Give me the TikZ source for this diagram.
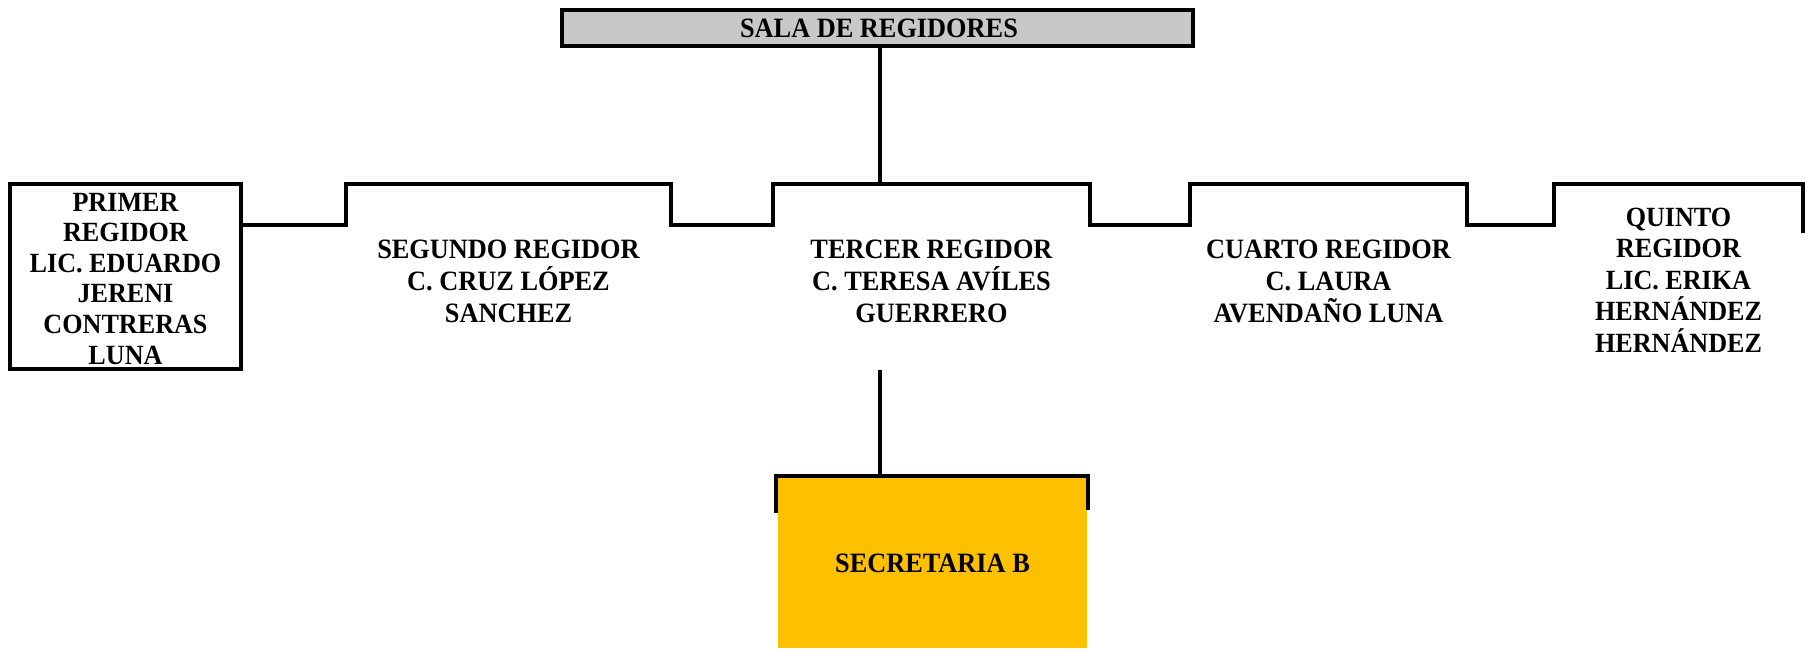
\documentclass[tikz,border=0pt]{standalone}
\usepackage{fontspec}
\setmainfont{Liberation Serif}
\newfontfamily\tallfont{Liberation Serif}[FakeStretch=0.94]
\usetikzlibrary{calc}
\definecolor{salagray}{HTML}{C8C8C8}
\definecolor{secyellow}{HTML}{FFC000}
\begin{document}
\begin{tikzpicture}[x=1pt,y=-1pt,line width=4pt,
  lbl/.style={align=center,inner sep=0pt,anchor=base,font=\tallfont\fontsize{28}{32}\selectfont\bfseries},
  lblp/.style={lbl,font=\tallfont\fontsize{27.8}{30.6}\selectfont\bfseries},
  lblq/.style={lbl,font=\tallfont\fontsize{27.8}{31.4}\selectfont\bfseries},
  slot/.style={inner sep=0pt,minimum height=37pt,anchor=north},
  wire/.style={line width=4pt,line cap=rect}
]
\useasboundingbox (0,0) rectangle (1809,648);
% top box
\node[draw,fill=salagray,minimum width=631pt,minimum height=36pt,inner sep=0pt] (sala) at (877.5,28) {};
\node[lbl] (salatxt) at (879,37) {SALA DE REGIDORES};
% primer box
\node[draw,minimum width=231pt,minimum height=185pt,inner sep=0pt] (primer) at (125.5,276.5) {};
\node[lblp] (primertxt) at (125.5,364) {PRIMER\\REGIDOR\\LIC. EDUARDO\\JERENI\\CONTRERAS\\LUNA};
% bracket slots
\node[slot,minimum width=321pt] (seg) at (508.5,184) {};
\node[slot,minimum width=313pt] (ter) at (931.5,184) {};
\node[slot,minimum width=273pt] (cua) at (1328.5,184) {};
\node[slot,minimum width=245pt] (qui) at (1678.5,184) {};
\draw[wire] (seg.south west) -- (seg.north west) -- (seg.north east) -- (seg.south east);
\draw[wire] (ter.south west) -- (ter.north west) -- (ter.north east) -- (ter.south east);
\draw[wire] (cua.south west) -- (cua.north west) -- (cua.north east) -- (cua.south east);
\draw[wire] (qui.south west) -- (qui.north west) -- (qui.north east) -- ([yshift=-6pt]qui.south east);
% texts
\node[lbl] (segtxt) at (508.5,322) {SEGUNDO REGIDOR\\C. CRUZ LÓPEZ\\SANCHEZ};
\node[lbl] (tertxt) at (931.5,322) {TERCER REGIDOR\\C. TERESA AVÍLES\\GUERRERO};
\node[lbl] (cuatxt) at (1328.5,322) {CUARTO REGIDOR\\C. LAURA\\AVENDAÑO LUNA};
\node[lblq] (quitxt) at (1678.5,352) {QUINTO\\REGIDOR\\LIC. ERIKA\\HERNÁNDEZ\\HERNÁNDEZ};
% connectors
\draw[wire] (primer.east |- seg.south west) -- (seg.south west);
\draw[wire] (seg.south east) -- (ter.south west);
\draw[wire] (ter.south east) -- (cua.south west);
\draw[wire] (cua.south east) -- (qui.south west);
\coordinate (tup) at (880,184);
\draw[wire,line cap=butt] (sala.south -| tup) -- (tup);
% secretaria
\fill[secyellow] (778,478) rectangle (1087,648);
\node[inner sep=0pt,minimum width=309pt,minimum height=170pt] (sec) at (932.5,563) {};
\node[lbl] (sectxt) at (932.5,572) {SECRETARIA B};
\coordinate (tdown) at (880,370);
\draw[wire,line cap=butt] (tdown) -- (tdown |- sec.north);
\draw[wire,line cap=butt] (776,513) -- (776,476) -- (1088,476) -- (1088,510);
\end{tikzpicture}
\end{document}
